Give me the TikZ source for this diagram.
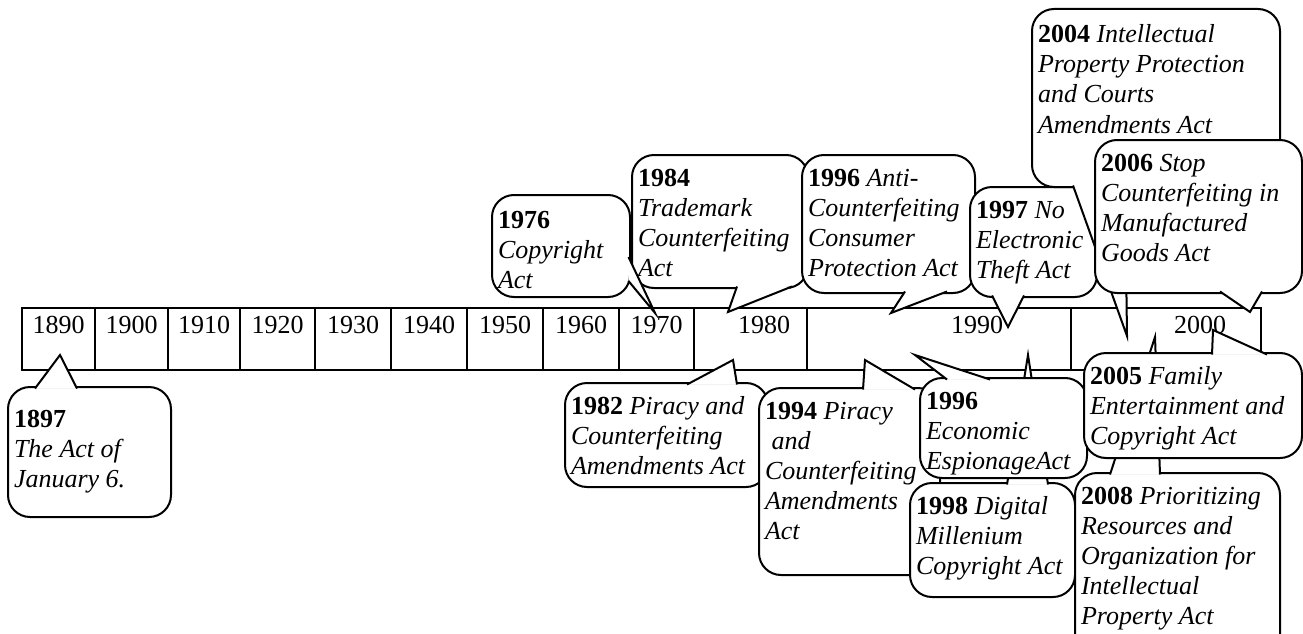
\documentclass[tikz,border=0pt]{standalone}
\usepackage{fontspec}
\setmainfont{Liberation Serif}
\hyphenpenalty=10000
\exhyphenpenalty=10000

\begin{document}
\begin{tikzpicture}[
  x=1pt, y=-1pt,
  line width=2pt,
  cell/.style={draw, anchor=north west, minimum height=62pt,
    inner sep=0pt, outer sep=0pt},
  yr/.style={anchor=base, inner sep=0pt,
    font=\fontsize{26}{30}\selectfont},
  act/.style={draw, fill=white, rounded corners=22pt, anchor=north west,
    align=flush left, inner xsep=6pt, inner ysep=0pt, outer sep=0pt,
    text height=31pt, font=\fontsize{26}{30}\selectfont\itshape},
  ptr/.style={draw, fill=white, line join=miter}
]
\useasboundingbox (0,0) rectangle (1303,634);

% ---- Timeline cells ----
\node[cell, minimum width=73pt] (c1890) at (22,308) {};
\node[cell, minimum width=73pt] (c1900) at (95,308) {};
\node[cell, minimum width=72pt] (c1910) at (168,308) {};
\node[cell, minimum width=75pt] (c1920) at (240,308) {};
\node[cell, minimum width=76pt] (c1930) at (315,308) {};
\node[cell, minimum width=76pt] (c1940) at (391,308) {};
\node[cell, minimum width=76pt] (c1950) at (467,308) {};
\node[cell, minimum width=76pt] (c1960) at (543,308) {};
\node[cell, minimum width=75pt] (c1970) at (619,308) {};
\node[cell, minimum width=113pt] (c1980) at (694,308) {};
\node[cell, minimum width=264pt] (c1990) at (807,308) {};
\node[cell, minimum width=190pt] (c2000) at (1071,308) {};

% ---- Decade labels ----
\node[yr] (l1890) at ([yshift=-25pt]c1890.north) {1890};
\node[yr] (l1900) at ([yshift=-25pt]c1900.north) {1900};
\node[yr] (l1910) at ([yshift=-25pt]c1910.north) {1910};
\node[yr] (l1920) at ([yshift=-25pt]c1920.north) {1920};
\node[yr] (l1930) at ([yshift=-25pt]c1930.north) {1930};
\node[yr] (l1940) at ([yshift=-25pt]c1940.north) {1940};
\node[yr] (l1950) at ([yshift=-25pt]c1950.north) {1950};
\node[yr] (l1960) at ([yshift=-25pt]c1960.north) {1960};
\node[yr] (l1970) at ([yshift=-25pt]c1970.north) {1970};
\node[yr] (l1980) at ([xshift=13.5pt,yshift=-25pt]c1980.north) {1980};
\node[yr] (l1990) at ([xshift=38pt,yshift=-25pt]c1990.north) {1990};
\node[yr] (l2000) at ([xshift=34pt,yshift=-25pt]c2000.north) {2000};

% ---- Pointer tips on the timeline ----
\coordinate (p1897) at (60,355);
\coordinate (p1976) at (655,313);
\coordinate (p1984) at (728,312);
\coordinate (p1996a) at (891,313);
\coordinate (p1997) at (1008,327);
\coordinate (p2004) at (1127,336);
\coordinate (p2006) at (1250,312);
\coordinate (p1982) at (733,360);
\coordinate (p1994) at (865,360);
\coordinate (p1996e) at (915,355);
\coordinate (p1998) at (1028,355);
\coordinate (p2005) at (1213,330);
\coordinate (p2008) at (1155,337);

% ---- Acts below the timeline ----
\node[act, text width=151pt, text height=40pt, text depth=90pt] (a1897) at (8,387)
  {\textbf{\upshape 1897}\\The Act of\\January 6.};
\draw[ptr] ([shift={(27,1.5)}]a1897.north west) -- (p1897) -- ([shift={(69,1.5)}]a1897.north west);

\node[act, text width=191pt, text depth=73pt] (a1982) at (565,383)
  {\textbf{\upshape 1982} Piracy and\\Counterfeiting\\Amendments Act};
\draw[ptr] ([shift={(122,1.5)}]a1982.north west) -- (p1982) -- ([shift={(172,1.5)}]a1982.north west);

\node[act, text width=169pt, text depth=156pt] (a1994) at (759,388)
  {\textbf{\upshape 1994} Piracy\\\hspace*{0.25em}and\\Counterfeiting\\Amendments\\Act};
\draw[ptr] ([shift={(104,1.5)}]a1994.north west) -- (p1994) -- ([shift={(156,1.5)}]a1994.north west);

\node[act, text width=153pt, text depth=83pt] (a1998) at (910,483)
  {\textbf{\upshape 1998} Digital\\Millenium\\Copyright Act};
\draw[ptr] ([shift={(97,1.5)}]a1998.north west) -- (p1998) -- ([shift={(138,1.5)}]a1998.north west);

\node[act, text width=155pt, text depth=69pt] (a1996e) at (920,378)
  {\textbf{\upshape 1996}\\Economic\\EspionageAct};
\draw[ptr] ([shift={(27,1.5)}]a1996e.north west) -- (p1996e) -- ([shift={(70,1.5)}]a1996e.north west);

\node[act, text width=193pt, text depth=159pt] (a2008) at (1075,473)
  {\textbf{\upshape 2008} Prioritizing\\Resources and\\Organization for\\Intellectual\\Property Act};
\draw[ptr] ([shift={(35,1.5)}]a2008.north west) -- (p2008) -- ([shift={(85,1.5)}]a2008.north west);

\node[act, text width=206pt, text depth=74pt] (a2005) at (1084,353)
  {\textbf{\upshape 2005} Family\\Entertainment and\\Copyright Act};
\draw[ptr] ([shift={(128,1.5)}]a2005.north west) -- (p2005) -- ([shift={(183,1.5)}]a2005.north west);

% ---- Acts above the timeline ----
\node[act, text width=164pt, text depth=102pt] (a1984) at (632,155)
  {\textbf{\upshape 1984}\\Trademark\\Counterfeiting\\Act};
\draw[ptr] ([shift={(105,-1.5)}]a1984.south west) -- (p1984) -- ([shift={(160,-1.5)}]a1984.south west);

\node[act, text width=126pt, text height=33pt, text depth=69pt] (a1976) at (492,195)
  {\textbf{\upshape 1976}\\Copyright\\Act};
\draw[ptr] ([shift={(-1.5,62)}]a1976.north east) -- (p1976) -- ([shift={(-1.5,86)}]a1976.north east);

\node[act, text width=161pt, text depth=107pt] (a1996a) at (802,155)
  {\textbf{\upshape 1996} Anti-\\Counterfeiting\\Consumer\\Protection Act};
\draw[ptr] ([shift={(103,-1.5)}]a1996a.south west) -- (p1996a) -- ([shift={(145,-1.5)}]a1996a.south west);

\node[act, text width=115pt, text depth=79pt] (a1997) at (970,187)
  {\textbf{\upshape 1997} No\\Electronic\\Theft Act};
\draw[ptr] ([shift={(22,-1.5)}]a1997.south west) -- (p1997) -- ([shift={(54,-1.5)}]a1997.south west);

\node[act, text width=236pt, text height=34pt, text depth=144pt] (a2004) at (1032,9)
  {\textbf{\upshape 2004} Intellectual\\Property Protection\\and Courts\\Amendments Act};
\draw[ptr] ([shift={(41,-1.5)}]a2004.south west) -- (p2004) -- ([shift={(93,-1.5)}]a2004.south west);

\node[act, text width=195pt, text depth=122pt] (a2006) at (1095,140)
  {\textbf{\upshape 2006} Stop\\Counterfeiting in\\Manufactured\\Goods Act};
\draw[ptr] ([shift={(125,-1.5)}]a2006.south west) -- (p2006) -- ([shift={(167,-1.5)}]a2006.south west);

\end{tikzpicture}
\end{document}
